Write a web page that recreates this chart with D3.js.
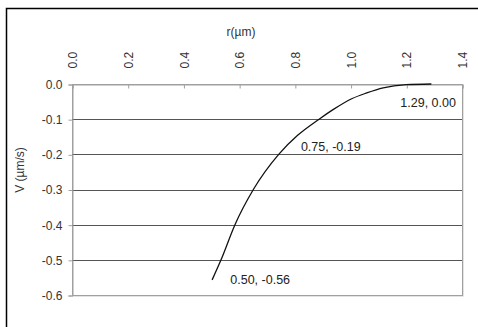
<!DOCTYPE html>
<html><head><meta charset="utf-8">
<script src="https://cdn.jsdelivr.net/npm/d3@7"></script>
<style>body{margin:0;background:#fff}svg{display:block;font-family:"Liberation Sans",Arial,sans-serif}</style>
</head><body><svg id="c" width="478" height="327"></svg>
<script>
const rValues = [0.503, 0.535, 0.585, 0.651, 0.742, 0.81, 0.887, 0.937, 1.004, 1.058, 1.117, 1.20, 1.29];
const vValues = [-0.557, -0.50, -0.40, -0.30, -0.20, -0.146, -0.10, -0.073, -0.042, -0.0255, -0.011, -0.002, 0.00];
const xTicks = [0.0, 0.2, 0.4, 0.6, 0.8, 1.0, 1.2, 1.4];
const yTicks = [0.0, -0.1, -0.2, -0.3, -0.4, -0.5, -0.6];
const pointLabels = [
  {r: 0.50, v: -0.56, text: "0.50, -0.56"},
  {r: 0.75, v: -0.19, text: "0.75, -0.19"},
  {r: 1.29, v: 0.00, text: "1.29, 0.00"}
];
const xTitle = "r(\u00b5m)";
const yTitle = "V (\u00b5m/s)";

const svg = d3.select("#c");
const L = 72, R = 462, T = 84, B = 295;
const x = d3.scaleLinear().domain([0, 1.4]).range([L, R]);
const y = d3.scaleLinear().domain([-0.6, 0]).range([B, T]);

// outer frame
svg.append("rect").attr("x", 6.5).attr("y", 8.5).attr("width", 480).attr("height", 330)
  .attr("fill", "#fff").attr("stroke", "#000").attr("stroke-width", 1.5);

// plot area shadow + border
svg.append("rect").attr("x", L + 1).attr("y", T + 1).attr("width", R - L).attr("height", B - T)
  .attr("fill", "none").attr("stroke", "#c8c8c8").attr("stroke-width", 1);
svg.append("rect").attr("x", L + 0.5).attr("y", T + 0.5).attr("width", R - L).attr("height", B - T)
  .attr("fill", "#fff").attr("stroke", "#a0a0a0").attr("stroke-width", 1);

// gridlines
svg.append("g").selectAll("line").data(yTicks.filter(d => d !== 0 && d !== -0.6)).join("line")
  .attr("x1", L).attr("x2", R)
  .attr("y1", d => Math.round(y(d)) + 0.5).attr("y2", d => Math.round(y(d)) + 0.5)
  .attr("stroke", "#555").attr("stroke-width", 1);

// y axis
const yAxis = svg.append("g").attr("transform", `translate(${L + 0.5},0.5)`)
  .call(d3.axisLeft(y).tickValues(yTicks).tickFormat(d3.format(".1f")).tickSize(4).tickPadding(6));
yAxis.select(".domain").attr("stroke", "#a0a0a0");
yAxis.selectAll(".tick line").attr("stroke", "#a0a0a0");
yAxis.selectAll("text").attr("font-size", 12).attr("fill", "#333").attr("font-family", "Liberation Sans, Arial, sans-serif")
  .text(d => d3.format(".1f")(d).replace("\u2212", "-"));

// x axis on top, ticks pointing inward
const xAxis = svg.append("g").attr("transform", `translate(0.5,${T + 0.5})`)
  .call(d3.axisTop(x).tickValues(xTicks).tickFormat(d3.format(".1f")).tickSize(-4));
xAxis.select(".domain").attr("stroke", "#a0a0a0");
xAxis.selectAll(".tick line").attr("stroke", "#a0a0a0");
xAxis.selectAll("text").attr("font-size", 12).attr("fill", "#333").attr("font-family", "Liberation Sans, Arial, sans-serif")
  .attr("transform", "rotate(-90)").attr("x", 16).attr("y", 0).attr("dy", "0.35em")
  .attr("text-anchor", "start");

// titles
svg.append("text").attr("x", 241).attr("y", 36).attr("text-anchor", "middle")
  .attr("font-size", 12).attr("fill", "#333").text(xTitle);
svg.append("text").attr("transform", "translate(24,170) rotate(-90)").attr("text-anchor", "middle")
  .attr("font-size", 12).attr("fill", "#333").text(yTitle);

// curve
const pts = rValues.map((r, i) => [r, vValues[i]]);
svg.append("path").datum(pts)
  .attr("d", d3.line().x(d => x(d[0])).y(d => y(d[1])).curve(d3.curveMonotoneX))
  .attr("fill", "none").attr("stroke", "#111").attr("stroke-width", 1.3);

// data labels
const offs = [[19, 3], [20, 0], [-31, 23]];
svg.append("g").selectAll("text").data(pointLabels).join("text")
  .attr("x", (d, i) => x(d.r) + offs[i][0]).attr("y", (d, i) => y(d.v) + offs[i][1])
  .attr("font-size", 12.5).attr("fill", "#222").text(d => d.text);
</script></body></html>
